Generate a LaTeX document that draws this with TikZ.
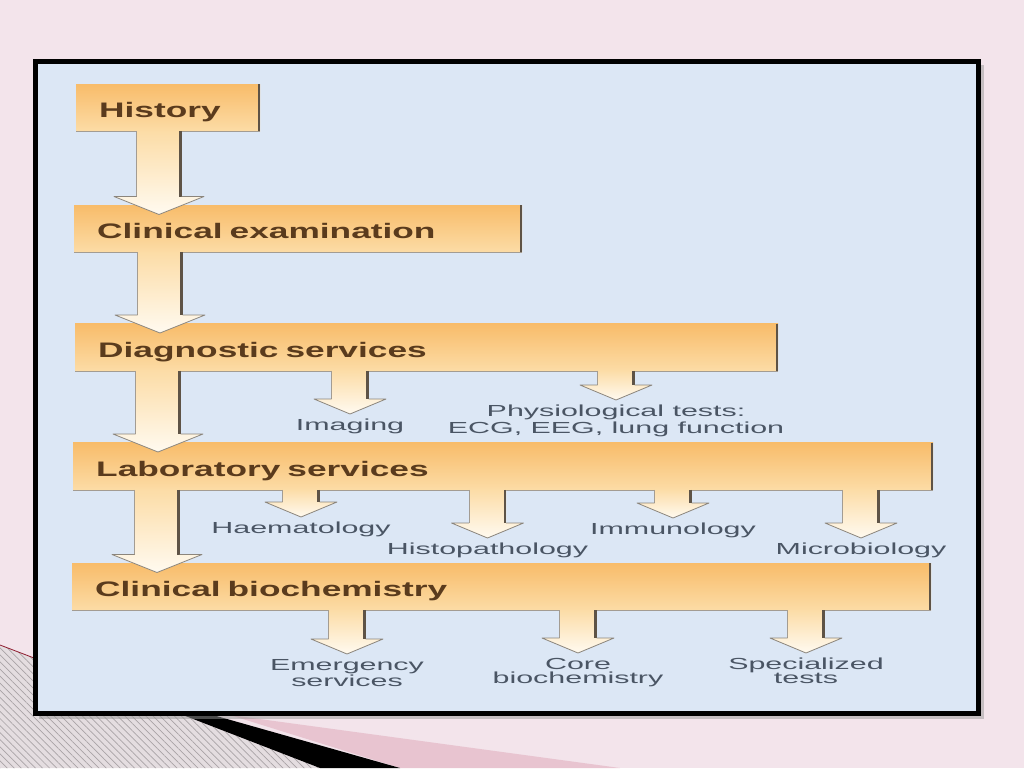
\documentclass[tikz,border=0pt]{standalone}
\usepackage{fontspec}
\setmainfont{Liberation Sans}
\newfontfamily\boxfont[FakeStretch=1.68]{Liberation Sans}
\newfontfamily\subfont[FakeStretch=1.9]{Liberation Sans}
\usetikzlibrary{calc,patterns.meta}
\definecolor{pinkbg}{HTML}{F3E4EB}
\definecolor{pinkdark}{HTML}{E8C4D0}
\definecolor{hatchbg}{HTML}{E4DDE0}
\definecolor{hatchline}{HTML}{A9A3A6}
\definecolor{redline}{HTML}{8E1B2E}
\definecolor{panel}{HTML}{DCE7F5}
\definecolor{boxtop}{HTML}{F8BC6A}
\definecolor{boxbot}{HTML}{FCDCA6}
\definecolor{arrowbot}{HTML}{FFFAF0}
\definecolor{edgedark}{HTML}{5E5346}
\definecolor{edgelight}{HTML}{A39C92}
\definecolor{boxtext}{HTML}{5A3B1D}
\definecolor{subtext}{HTML}{4A5564}
\tikzset{
  stagebox/.style={rectangle, anchor=north west, top color=boxtop, bottom color=boxbot,
    draw=none, inner xsep=23pt, inner ysep=0pt, minimum height=47pt,
    text height=20pt, text depth=0pt, align=left,
    font=\boxfont\bfseries\fontsize{21}{24}\selectfont, text=boxtext},
  sublabel/.style={anchor=north, inner sep=0pt, align=center,
    font=\subfont\fontsize{16}{14}\selectfont, text=subtext},
  arrowfill/.style={top color=boxbot, bottom color=arrowbot, draw=none},
  shaftright/.style={draw=edgedark, line width=2.2pt},
  shaftleft/.style={draw=edgelight, line width=0.7pt},
  headline/.style={draw=edgelight!85!black, line width=0.8pt, line join=round},
  boxright/.style={draw=edgedark, line width=2.5pt},
  boxbottom/.style={draw=edgelight, line width=0.7pt},
}
% main flow arrow: from box #1 down to box #2
\newcommand\flowarrow[2]{%
  \path[arrowfill] let \p1=(#1.south), \p2=(#2.north west) in
    (\x2+62.5pt,\y1+0.8pt) -- (\x2+62.5pt,\y2+8.5pt) -- (\x2+40pt,\y2+8.5pt)
    -- (\x2+85pt,\y2-9.5pt) -- (\x2+130pt,\y2+8.5pt) -- (\x2+107.5pt,\y2+8.5pt)
    -- (\x2+107.5pt,\y1+0.8pt) -- cycle;
  \draw[shaftleft] let \p1=(#1.south), \p2=(#2.north west) in
    (\x2+62.5pt,\y1) -- (\x2+62.5pt,\y2+8.5pt);
  \draw[shaftright] let \p1=(#1.south), \p2=(#2.north west) in
    (\x2+106.4pt,\y1) -- (\x2+106.4pt,\y2+8.5pt);
  \draw[headline] let \p1=(#1.south), \p2=(#2.north west) in
    (\x2+62.5pt,\y2+8.5pt) -- (\x2+40pt,\y2+8.5pt) -- (\x2+85pt,\y2-9.5pt)
    -- (\x2+130pt,\y2+8.5pt) -- (\x2+107.5pt,\y2+8.5pt);
}
% branch arrow: from box #1 down to label #2
\newcommand\brancharrow[2]{%
  \path[arrowfill] let \p1=(#1.south), \p2=(#2.north) in
    (\x2-18.5pt,\y1+0.8pt) -- (\x2-18.5pt,\y2+20pt) -- (\x2-36pt,\y2+20pt)
    -- (\x2,\y2+5pt) -- (\x2+36pt,\y2+20pt) -- (\x2+18.5pt,\y2+20pt)
    -- (\x2+18.5pt,\y1+0.8pt) -- cycle;
  \draw[shaftleft] let \p1=(#1.south), \p2=(#2.north) in
    (\x2-18.5pt,\y1) -- (\x2-18.5pt,\y2+20pt);
  \draw[shaftright] let \p1=(#1.south), \p2=(#2.north) in
    (\x2+17.4pt,\y1) -- (\x2+17.4pt,\y2+20pt);
  \draw[headline] let \p1=(#1.south), \p2=(#2.north) in
    (\x2-18.5pt,\y2+20pt) -- (\x2-36pt,\y2+20pt) -- (\x2,\y2+5pt)
    -- (\x2+36pt,\y2+20pt) -- (\x2+18.5pt,\y2+20pt);
}
\begin{document}
\begin{tikzpicture}[x=1pt,y=-1pt]
\useasboundingbox (0,0) rectangle (1024,768);
\fill[pinkbg] (0,0) rectangle (1024,768);
% slide decoration, bottom left
\fill[hatchbg] (0,645) -- (320,768) -- (0,768) -- cycle;
\fill[pattern={Lines[angle=-45,distance=5pt,line width=0.7pt]}, pattern color=hatchline]
  (0,645) -- (320,768) -- (0,768) -- cycle;
\fill[pinkdark] (230,715) -- (620,768) -- (400,768) -- cycle;
\fill[black] (100,683) -- (400,768) -- (320,768) -- cycle;
\draw[redline, line width=0.8pt] (0,645) -- (110,687);
% framed panel
\fill[black!40, opacity=0.5] (39,65) rectangle (984,719);
\draw[line width=5pt, fill=panel] (35.5,61.5) rectangle (978.5,713.5);
% stage boxes
\node[stagebox, text width=138pt] (hist) at (76,84) {History};
\node[stagebox, text width=402pt] (clin) at (74,205) {Clinical examination};
\node[stagebox, text width=657pt] (diag) at (75,323.5) {Diagnostic services};
\node[stagebox, text width=814pt] (lab) at (73,442.5) {Laboratory services};
\node[stagebox, text width=813pt] (bio) at (72,563) {Clinical biochemistry};
\foreach \b in {hist,clin,diag,lab,bio}{
  \draw[boxbottom] (\b.south west) -- (\b.south east);
}
% branch labels
\node[sublabel] (img) at (350,419) {Imaging};
\node[sublabel] (phys) at (616,405) {Physiological tests:\\[1pt]ECG, EEG, lung function};
\node[sublabel] (haem) at (301,522) {Haematology};
\node[sublabel] (histo) at (487.5,543) {Histopathology};
\node[sublabel] (immu) at (673,523) {Immunology};
\node[sublabel] (micro) at (861,543) {Microbiology};
\node[sublabel] (emer) at (347,659) {Emergency\\services};
\node[sublabel] (core) at (578,658) {Core\\biochemistry};
\node[sublabel] (spec) at (806,658) {Specialized\\tests};
% arrows
\flowarrow{hist}{clin}
\flowarrow{clin}{diag}
\flowarrow{diag}{lab}
\flowarrow{lab}{bio}
\brancharrow{diag}{img}
\brancharrow{diag}{phys}
\brancharrow{lab}{haem}
\brancharrow{lab}{histo}
\brancharrow{lab}{immu}
\brancharrow{lab}{micro}
\brancharrow{bio}{emer}
\brancharrow{bio}{core}
\brancharrow{bio}{spec}
% right edges of boxes
\foreach \b in {hist,clin,diag,lab,bio}{
  \draw[boxright] ([xshift=-1.25pt]\b.north east) -- ([xshift=-1.25pt]\b.south east);
}
\end{tikzpicture}
\end{document}
